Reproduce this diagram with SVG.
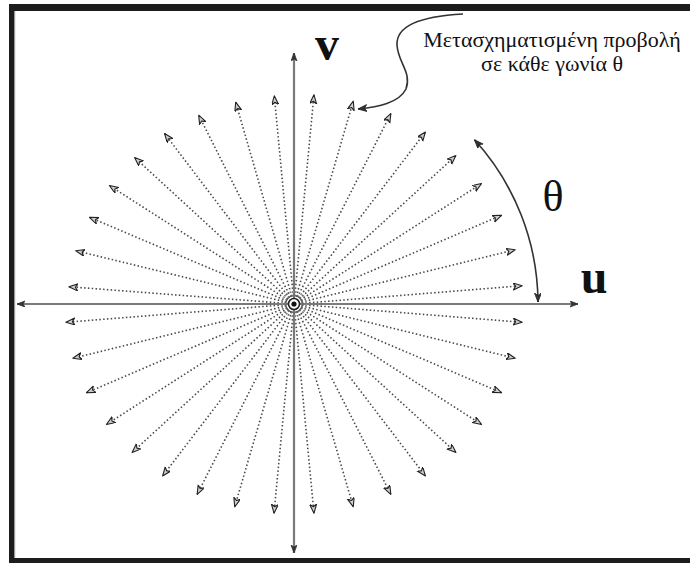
<svg xmlns="http://www.w3.org/2000/svg" width="690" height="563" viewBox="0 0 690 563">
<style>
.ray{stroke:#4a4a4a;stroke-width:1.6;stroke-dasharray:1.5 2.3;fill:none;marker-end:url(#rh)}
.axis{stroke:#7a7a7a;stroke-width:2.2;fill:none;marker-start:url(#ah);marker-end:url(#ah)}
.frame{fill:#1c1c1c}
.lbl{font-family:"Liberation Serif","DejaVu Serif",serif;fill:#111}
.big{font-size:48px;font-weight:bold;text-anchor:middle}
.note{font-size:22px;text-anchor:middle}
</style>
<defs>
<marker id="rh" markerUnits="userSpaceOnUse" markerWidth="12" markerHeight="10" refX="9" refY="3.5" orient="auto">
<path d="M0,0 L9,3.5 L0,7 L2.5,3.5 z" fill="#cfcfcf" stroke="#222" stroke-width="1.1" stroke-linejoin="round"/>
</marker>
<marker id="ah" markerUnits="userSpaceOnUse" markerWidth="12" markerHeight="10" refX="8" refY="3" orient="auto-start-reverse">
<path d="M0,0 L8,3 L0,6 L2,3 z" fill="#333" stroke="#333" stroke-width="0.8"/>
</marker>
<marker id="ch" markerUnits="userSpaceOnUse" markerWidth="12" markerHeight="10" refX="9" refY="3.5" orient="auto-start-reverse">
<path d="M0,0 L9,3.5 L0,7 L2.5,3.5 z" fill="#333" stroke="#222" stroke-width="0.8"/>
</marker>
</defs>
<rect width="690" height="563" fill="#ffffff"/>
<g id="frame">
<rect class="frame" x="9" y="4" width="681" height="7"/>
<rect class="frame" x="9" y="4" width="5" height="559"/>
<rect class="frame" x="9" y="558" width="681" height="5"/>
<rect x="14" y="11" width="1.2" height="547" fill="#9a9a9a"/>
</g>
<g id="connectors">
<g id="rays">
<line class="ray" x1="294" y1="304" x2="522.1" y2="285.7"/>
<line class="ray" x1="294" y1="304" x2="515.2" y2="249.7"/>
<line class="ray" x1="294" y1="304" x2="501.5" y2="215.3"/>
<line class="ray" x1="294" y1="304" x2="481.6" y2="183.5"/>
<line class="ray" x1="294" y1="304" x2="455.9" y2="155.5"/>
<line class="ray" x1="294" y1="304" x2="425.4" y2="132.0"/>
<line class="ray" x1="294" y1="304" x2="390.8" y2="113.7"/>
<line class="ray" x1="294" y1="304" x2="353.3" y2="101.2"/>
<line class="ray" x1="294" y1="304" x2="314.0" y2="94.8"/>
<line class="ray" x1="294" y1="304" x2="68.9" y2="286.7"/>
<line class="ray" x1="294" y1="304" x2="75.8" y2="250.7"/>
<line class="ray" x1="294" y1="304" x2="89.5" y2="217.3"/>
<line class="ray" x1="294" y1="304" x2="109.4" y2="185.5"/>
<line class="ray" x1="294" y1="304" x2="134.6" y2="157.5"/>
<line class="ray" x1="294" y1="304" x2="164.6" y2="133.5"/>
<line class="ray" x1="294" y1="304" x2="198.7" y2="115.2"/>
<line class="ray" x1="294" y1="304" x2="235.7" y2="102.2"/>
<line class="ray" x1="294" y1="304" x2="274.3" y2="95.8"/>
<line class="ray" x1="294" y1="304" x2="65.9" y2="322.3"/>
<line class="ray" x1="294" y1="304" x2="72.8" y2="358.3"/>
<line class="ray" x1="294" y1="304" x2="86.5" y2="392.7"/>
<line class="ray" x1="294" y1="304" x2="106.4" y2="424.5"/>
<line class="ray" x1="294" y1="304" x2="132.1" y2="452.5"/>
<line class="ray" x1="294" y1="304" x2="162.6" y2="476.0"/>
<line class="ray" x1="294" y1="304" x2="197.2" y2="494.3"/>
<line class="ray" x1="294" y1="304" x2="234.7" y2="506.8"/>
<line class="ray" x1="294" y1="304" x2="274.0" y2="513.2"/>
<line class="ray" x1="294" y1="304" x2="522.1" y2="322.3"/>
<line class="ray" x1="294" y1="304" x2="515.2" y2="358.3"/>
<line class="ray" x1="294" y1="304" x2="501.5" y2="392.7"/>
<line class="ray" x1="294" y1="304" x2="481.6" y2="424.5"/>
<line class="ray" x1="294" y1="304" x2="455.9" y2="452.5"/>
<line class="ray" x1="294" y1="304" x2="425.4" y2="476.0"/>
<line class="ray" x1="294" y1="304" x2="390.8" y2="494.3"/>
<line class="ray" x1="294" y1="304" x2="353.3" y2="506.8"/>
<line class="ray" x1="294" y1="304" x2="314.0" y2="513.2"/>
</g>
<g id="axes">
<line class="axis" x1="17" y1="304" x2="578" y2="304"/>
<line class="axis" x1="294" y1="553" x2="294" y2="53"/>
</g>
<path id="theta-arc" d="M474.5,139.8 A244,244 0 0 1 538,302" fill="none" stroke="#333" stroke-width="1.6" marker-start="url(#ch)" marker-end="url(#ch)"/>
<path id="note-curve" d="M463,14 C425,16 396,24 397,45 C398,63 412,72 406,89 C399,103 378,107 358,109" fill="none" stroke="#333" stroke-width="1.6" marker-end="url(#ch)"/>
</g>
<g id="origin">
<circle cx="294" cy="304" r="12.5" fill="none" stroke="#999" stroke-width="1.2" stroke-dasharray="1.5 1.5"/>
<circle cx="294" cy="304" r="9" fill="none" stroke="#666" stroke-width="1.4" stroke-dasharray="2 1.2"/>
<circle cx="294" cy="304" r="5.5" fill="#fff" stroke="#222" stroke-width="1.6"/>
<circle cx="294" cy="304" r="2.6" fill="#111"/>
</g>
<g id="labels">
<text id="label-v" class="lbl big" x="327" y="60">v</text>
<text id="label-u" class="lbl big" x="594" y="293">u</text>
<text id="label-theta" class="lbl" x="553" y="211" font-size="44" text-anchor="middle">θ</text>
</g>
<g id="annotation">
<text class="lbl note" x="552" y="47">Μετασχηματισμένη προβολή</text>
<text class="lbl note" x="552" y="71">σε κάθε γωνία θ</text>
</g>
</svg>
